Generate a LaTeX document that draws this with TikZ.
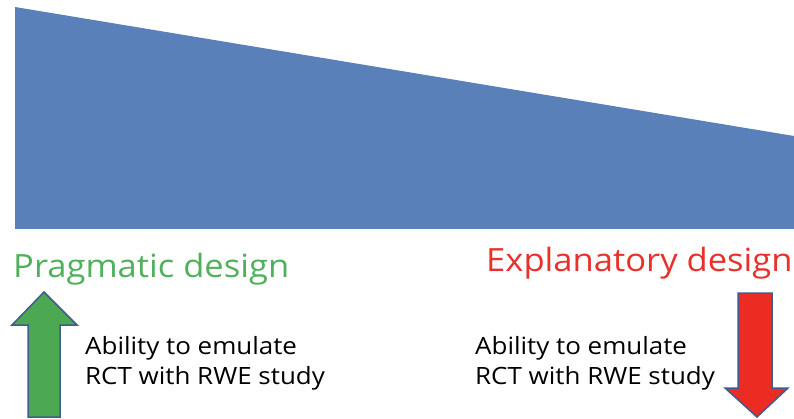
\documentclass[tikz,border=0pt]{standalone}
\usepackage{fontspec}
\setmainfont{Open Sans}[FakeStretch=1.09]
\newfontfamily\titlefont{Open Sans}[FakeStretch=1.08]
\definecolor{wedgeblue}{RGB}{89,128,185}
\definecolor{pragreen}{RGB}{80,176,92}
\definecolor{arrgreen}{RGB}{76,168,82}
\definecolor{expred}{RGB}{233,48,43}
\definecolor{arrred}{RGB}{236,44,34}
\definecolor{arrline}{RGB}{62,92,140}
\tikzset{
  title/.style={anchor=base west, inner sep=0pt, font=\titlefont\fontsize{32}{38}\selectfont},
  body/.style={anchor=base west, inner sep=0pt, font=\fontsize{23.8}{29}\selectfont},
  blockarrow/.style={draw=arrline, line width=1.5pt, line join=miter}
}
\begin{document}
\begin{tikzpicture}[x=1pt,y=-1pt]
\useasboundingbox (0,0) rectangle (794,419);
% wedge
\fill[wedgeblue] (15,7) -- (794,136) -- (794,229) -- (15,229) -- cycle;
% titles
\node[title, text=pragreen] (prag) at (13,278) {Pragmatic design};
\node[title, text=expred] (expl) at (486,272) {Explanatory design};
% body texts
\node[body] (l1) at (85,354) {Ability to emulate};
\node[body] (l2) at (85,384) {RCT with RWE study};
\node[body] (r1) at (475,354) {Ability to emulate};
\node[body] (r2) at (475,384) {RCT with RWE study};
% green up arrow
\draw[blockarrow, fill=arrgreen] (44,292) -- (77,325) -- (60,325) -- (60,417) -- (28,417) -- (28,325) -- (12,325) -- cycle;
% red down arrow
\draw[blockarrow, fill=arrred] (738,293) -- (772,293) -- (772,388) -- (788,388) -- (757,417) -- (725,388) -- (738,388) -- cycle;
\end{tikzpicture}
\end{document}
